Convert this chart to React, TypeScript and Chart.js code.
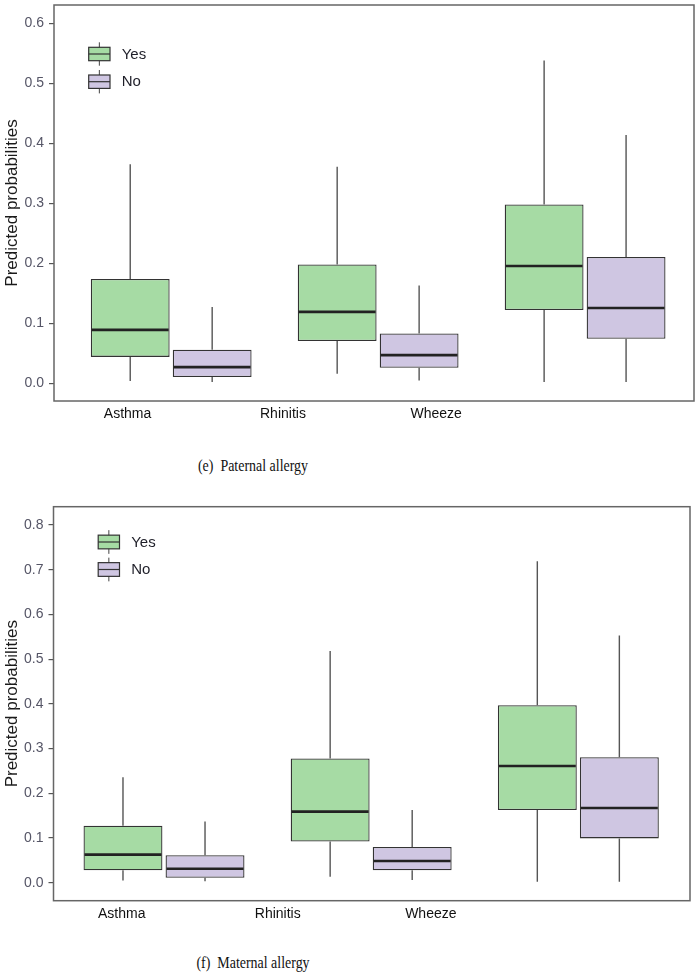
import React, { useEffect, useRef } from 'react';
import { Chart, registerables } from 'chart.js';

Chart.register(...registerables);

// ---------- data ----------
const CATEGORIES = ['Asthma', 'Rhinitis', 'Wheeze'];
const GROUPS = ['Yes', 'No'];
const Y_TICKS_E = [0, 0.1, 0.2, 0.3, 0.4, 0.5, 0.6];
const Y_TICKS_F = [0, 0.1, 0.2, 0.3, 0.4, 0.5, 0.6, 0.7, 0.8];

// (e) Paternal allergy
const E_YES_MIN = [0.004, 0.016, 0.002];
const E_YES_Q1 = [0.044, 0.0705, 0.122];
const E_YES_MEDIAN = [0.089, 0.119, 0.1955];
const E_YES_Q3 = [0.174, 0.198, 0.298];
const E_YES_MAX = [0.365, 0.361, 0.538];
const E_NO_MIN = [0.002, 0.0045, 0.002];
const E_NO_Q1 = [0.0105, 0.026, 0.0743];
const E_NO_MEDIAN = [0.027, 0.047, 0.1255];
const E_NO_Q3 = [0.056, 0.083, 0.2105];
const E_NO_MAX = [0.127, 0.163, 0.414];

// (f) Maternal allergy
const F_YES_MIN = [0.005, 0.013, 0.002];
const F_YES_Q1 = [0.0277, 0.092, 0.1626];
const F_YES_MEDIAN = [0.0627, 0.159, 0.261];
const F_YES_Q3 = [0.1275, 0.278, 0.397];
const F_YES_MAX = [0.236, 0.518, 0.719];
const F_NO_MIN = [0.003, 0.006, 0.002];
const F_NO_Q1 = [0.0112, 0.0277, 0.099];
const F_NO_MEDIAN = [0.0313, 0.0485, 0.167];
const F_NO_Q3 = [0.0613, 0.08, 0.2805];
const F_NO_MAX = [0.137, 0.1626, 0.553];

// ---------- styles ----------
const FILLS = ['#a6dba4', '#cfc6e2'];
const SANS = "'Liberation Sans', Arial, sans-serif";
const SERIF = "'Liberation Serif', 'Times New Roman', serif";

type Stats = { min: number[]; q1: number[]; median: number[]; q3: number[]; max: number[] };

const boxPlugin = {
  id: 'boxExtras',
  afterDatasetsDraw(chart: any, _args: any, opts: any) {
    const ctx = chart.ctx;
    const y = chart.scales.y;
    chart.data.datasets.forEach((ds: any, di: number) => {
      const meta = chart.getDatasetMeta(di);
      const st: Stats = ds.stats;
      meta.data.forEach((el: any, i: number) => {
        const x = el.x;
        const half = el.width / 2;
        ctx.save();
        ctx.strokeStyle = opts.whiskerColor;
        ctx.lineWidth = opts.whiskerWidth;
        ctx.beginPath();
        ctx.moveTo(x, y.getPixelForValue(st.q3[i]));
        ctx.lineTo(x, y.getPixelForValue(st.max[i]));
        ctx.moveTo(x, y.getPixelForValue(st.q1[i]));
        ctx.lineTo(x, y.getPixelForValue(st.min[i]));
        ctx.stroke();
        const my = y.getPixelForValue(st.median[i]);
        ctx.strokeStyle = opts.medianColor;
        ctx.lineWidth = opts.medianWidth;
        ctx.beginPath();
        ctx.moveTo(x - half + 1, my);
        ctx.lineTo(x + half - 1, my);
        ctx.stroke();
        ctx.restore();
      });
    });
    const a = chart.chartArea;
    ctx.save();
    ctx.strokeStyle = opts.frameColor;
    ctx.lineWidth = opts.frameWidth;
    ctx.strokeRect(a.left, a.top, a.right - a.left, a.bottom - a.top);
    ctx.restore();

    // legend inside panel
    const lg = opts.legend;
    chart.data.datasets.forEach((ds: any, di: number) => {
      const cx = a.left + lg.x;
      const cy = a.top + lg.y + di * lg.step;
      const w = lg.boxW;
      const h = lg.boxH;
      ctx.save();
      ctx.strokeStyle = '#444';
      ctx.lineWidth = 1;
      ctx.beginPath();
      ctx.moveTo(cx + w / 2, cy - h / 2 - lg.whisker);
      ctx.lineTo(cx + w / 2, cy + h / 2 + lg.whisker);
      ctx.stroke();
      ctx.fillStyle = ds.backgroundColor;
      ctx.fillRect(cx, cy - h / 2, w, h);
      ctx.strokeStyle = '#333';
      ctx.lineWidth = 1.2;
      ctx.strokeRect(cx, cy - h / 2, w, h);
      ctx.beginPath();
      ctx.moveTo(cx, cy);
      ctx.lineTo(cx + w, cy);
      ctx.stroke();
      ctx.fillStyle = '#1e1e28';
      ctx.font = `15px ${SANS}`;
      ctx.textBaseline = 'middle';
      ctx.textAlign = 'left';
      ctx.fillText(ds.label, cx + w + lg.gap, cy + 0.5);
      ctx.restore();
    });
  },
};

type Props = {
  width: number;
  height: number;
  series: Stats[];
  yTicks: number[];
  yMin: number;
  yMax: number;
  xMin: number;
  xMax: number;
  labelPos: number[];
  pad: { top: number; right: number };
  axisW: number;
  axisH: number;
  legend: any;
};

function BoxChart(p: Props) {
  const ref = useRef<HTMLCanvasElement>(null);
  useEffect(() => {
    if (!ref.current) return;
    const chart = new Chart(ref.current, {
      type: 'bar',
      data: {
        datasets: p.series.map((s, k) => ({
          label: GROUPS[k],
          data: CATEGORIES.map((_, i) => ({ x: i, y: [s.q1[i], s.q3[i]] })),
          stats: s,
          backgroundColor: FILLS[k],
          borderColor: '#333333',
          borderWidth: 1.3,
          borderSkipped: false,
          categoryPercentage: 0.792,
          barPercentage: 0.962,
          xAxisID: 'x',
          yAxisID: 'y',
        })) as any,
      },
      options: {
        animation: false,
        responsive: false,
        maintainAspectRatio: false,
        events: [],
        layout: { padding: { left: 0, top: p.pad.top, right: p.pad.right, bottom: 0 } },
        plugins: {
          legend: { display: false },
          tooltip: { enabled: false },
          boxExtras: {
            whiskerColor: '#555555',
            whiskerWidth: 1.4,
            medianColor: '#222222',
            medianWidth: 2.6,
            frameColor: '#666666',
            frameWidth: 1.5,
            legend: p.legend,
          },
        } as any,
        scales: {
          x: {
            type: 'linear',
            display: false,
            offset: false,
            min: p.xMin,
            max: p.xMax,
            afterBuildTicks: (s: any) => {
              s.ticks = CATEGORIES.map((_, i) => ({ value: i }));
            },
          },
          xl: {
            type: 'linear',
            position: 'bottom',
            offset: false,
            min: p.xMin,
            max: p.xMax,
            grid: { display: false, drawTicks: false },
            border: { display: false },
            ticks: {
              autoSkip: false,
              maxRotation: 0,
              padding: 5,
              color: '#111111',
              font: { size: 14, family: SANS },
              callback: (_v: any, i: number) => CATEGORIES[i],
            },
            afterBuildTicks: (s: any) => {
              s.ticks = p.labelPos.map((v) => ({ value: v }));
            },
            afterFit: (s: any) => {
              s.height = p.axisH;
              s.paddingLeft = 0;
              s.paddingRight = 0;
            },
          },
          y: {
            type: 'linear',
            min: p.yMin,
            max: p.yMax,
            grid: { drawOnChartArea: false, drawTicks: true, tickLength: 5, color: '#555555', lineWidth: 1.2 },
            border: { display: false },
            ticks: {
              padding: 5,
              color: '#555566',
              font: { size: 14, family: SANS },
              callback: (v: any) => Number(v).toFixed(1),
            },
            afterBuildTicks: (s: any) => {
              s.ticks = p.yTicks.map((v) => ({ value: v }));
            },
            title: {
              display: true,
              text: 'Predicted probabilities',
              color: '#1a1a1a',
              font: { size: 17, family: SANS },
              padding: { top: 2, bottom: 0 },
            },
            afterFit: (s: any) => {
              s.width = p.axisW;
              s.paddingTop = 0;
              s.paddingBottom = 0;
            },
          },
        } as any,
      },
      plugins: [boxPlugin as any],
    });
    return () => chart.destroy();
  }, []);
  return <canvas ref={ref} width={p.width} height={p.height} style={{ display: 'block' }} />;
}

const captionStyle: React.CSSProperties = {
  position: 'absolute',
  left: 103,
  width: 300,
  textAlign: 'center',
  fontFamily: SERIF,
  fontSize: 17,
  color: '#111',
  whiteSpace: 'pre',
  transform: 'scaleX(0.82)',
  lineHeight: '20px',
};

export default function App() {
  const eSeries: Stats[] = [
    { min: E_YES_MIN, q1: E_YES_Q1, median: E_YES_MEDIAN, q3: E_YES_Q3, max: E_YES_MAX },
    { min: E_NO_MIN, q1: E_NO_Q1, median: E_NO_MEDIAN, q3: E_NO_Q3, max: E_NO_MAX },
  ];
  const fSeries: Stats[] = [
    { min: F_YES_MIN, q1: F_YES_Q1, median: F_YES_MEDIAN, q3: F_YES_Q3, max: F_YES_MAX },
    { min: F_NO_MIN, q1: F_NO_Q1, median: F_NO_MEDIAN, q3: F_NO_Q3, max: F_NO_MAX },
  ];
  Chart.defaults.font.family = SANS;
  return (
    <div style={{ position: 'absolute', left: 0, top: 0, width: 700, height: 975, background: '#fff' }}>
      <div style={{ position: 'absolute', left: 0, top: 0 }}>
        <BoxChart
          width={700}
          height={440}
          series={eSeries}
          yTicks={Y_TICKS_E}
          yMin={-0.0295}
          yMax={0.6305}
          xMin={-0.5663}
          xMax={2.5262}
          labelPos={[-0.211, 0.54, 1.28]}
          pad={{ top: 5, right: 6 }}
          axisW={54}
          axisH={39}
          legend={{ x: 34.7, y: 49, step: 27.7, boxW: 21.3, boxH: 13.4, whisker: 5, gap: 11.7 }}
        />
      </div>
      <div style={{ ...captionStyle, top: 456 }}>{'(e)  Paternal allergy'}</div>
      <div style={{ position: 'absolute', left: 0, top: 480 }}>
        <BoxChart
          width={700}
          height={460}
          series={fSeries}
          yTicks={Y_TICKS_F}
          yMin={-0.0403}
          yMax={0.841}
          xMin={-0.5334}
          xMax={2.539}
          labelPos={[-0.204, 0.549, 1.288]}
          pad={{ top: 26.7, right: 10 }}
          axisW={53.5}
          axisH={39.3}
          legend={{ x: 44.7, y: 35.3, step: 27.5, boxW: 21.3, boxH: 13.7, whisker: 5, gap: 11.7 }}
        />
      </div>
      <div style={{ ...captionStyle, top: 953 }}>{'(f)  Maternal allergy'}</div>
    </div>
  );
}
